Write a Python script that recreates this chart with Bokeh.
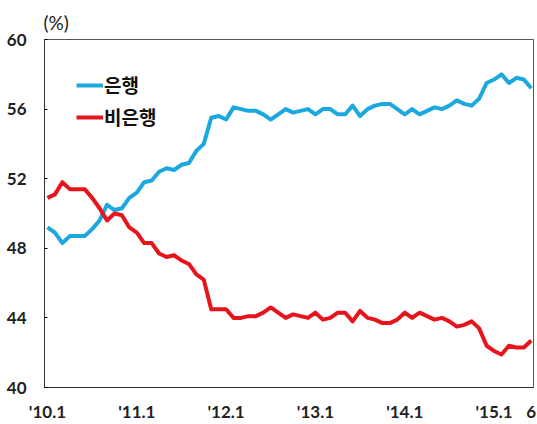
from bokeh.plotting import figure
from bokeh.models import Range1d, FixedTicker, Legend, LegendItem
from bokeh.embed import file_html
from bokeh.resources import INLINE

# Monthly shares (%), 2010.1 - 2015.6
months = list(range(66))
bank = [49.2, 48.9, 48.3, 48.7, 48.7, 48.7, 49.1, 49.6, 50.5, 50.2,
        50.3, 50.9, 51.2, 51.8, 51.9, 52.4, 52.6, 52.5, 52.8, 52.9,
        53.6, 54.0, 55.5, 55.6, 55.4, 56.1, 56.0, 55.9, 55.9, 55.7,
        55.4, 55.7, 56.0, 55.8, 55.9, 56.0, 55.7, 56.0, 56.0, 55.7,
        55.7, 56.2, 55.6, 56.0, 56.2, 56.3, 56.3, 56.0, 55.7, 56.0,
        55.7, 55.9, 56.1, 56.0, 56.2, 56.5, 56.3, 56.2, 56.6, 57.5,
        57.7, 58.0, 57.5, 57.8, 57.7, 57.2]
nonbank = [50.9, 51.1, 51.8, 51.4, 51.4, 51.4, 50.9, 50.3, 49.6, 50.0,
           49.9, 49.2, 48.9, 48.3, 48.3, 47.7, 47.5, 47.6, 47.3, 47.1,
           46.5, 46.2, 44.5, 44.5, 44.5, 44.0, 44.0, 44.1, 44.1, 44.3,
           44.6, 44.3, 44.0, 44.2, 44.1, 44.0, 44.3, 43.9, 44.0, 44.3,
           44.3, 43.8, 44.4, 44.0, 43.9, 43.7, 43.7, 43.9, 44.3, 44.0,
           44.3, 44.1, 43.9, 44.0, 43.8, 43.5, 43.6, 43.8, 43.4, 42.4,
           42.1, 41.9, 42.4, 42.3, 42.3, 42.7]
x_ticks = [0, 12, 24, 36, 48, 60, 65]
x_tick_labels = ["'10.1", "'11.1", "'12.1", "'13.1", "'14.1", "'15.1", "6"]
y_ticks = [40, 44, 48, 52, 56, 60]
series_names = ["은행", "비은행"]

BLUE = "#1AA8DE"
RED = "#E8141C"

p = figure(width=537, height=424, output_backend="svg", toolbar_location=None,
           x_range=Range1d(-0.4, 65.3), y_range=Range1d(40, 60),
           min_border_left=44, min_border_right=4, min_border_top=39,
           min_border_bottom=37, title="(%)")
p.title.text_font = "Lato"
p.title.text_font_size = "19px"
p.title.text_font_style = "normal"
p.title.text_color = "#222222"
p.title.offset = -1
p.title.standoff = 12

p.xgrid.visible = False
p.ygrid.visible = False
p.outline_line_color = "#555555"
p.outline_line_width = 1

r1 = p.line(months, bank, line_color=BLUE, line_width=4, line_join="round")
r2 = p.line(months, nonbank, line_color=RED, line_width=4, line_join="round")

p.xaxis.ticker = FixedTicker(ticks=x_ticks)
p.xaxis.major_label_overrides = {t: l for t, l in zip(x_ticks, x_tick_labels)}
p.xaxis.major_tick_line_color = None
p.xaxis.minor_tick_line_color = None
p.xaxis.major_label_standoff = 7
p.yaxis.ticker = FixedTicker(ticks=y_ticks)
p.yaxis.major_tick_in = 3
p.yaxis.major_tick_out = 0
p.yaxis.minor_tick_line_color = None
p.yaxis.major_label_standoff = 18
for ax in (p.xaxis, p.yaxis):
    ax.axis_line_color = "#333333"
    ax.major_label_text_font = "Lato"
    ax.major_label_text_font_size = "17px"
    ax.major_label_text_font_style = "bold"
    ax.major_label_text_color = "#222222"

legend = Legend(items=[LegendItem(label=series_names[0], renderers=[r1]),
                       LegendItem(label=series_names[1], renderers=[r2])],
                location="top_left", margin=24, padding=8,
                glyph_width=27, glyph_height=20, label_height=20,
                label_standoff=1, spacing=5,
                label_text_font="Noto Sans CJK KR", label_text_font_size="19px",
                label_text_font_style="bold", label_text_color="#111111",
                background_fill_alpha=0, border_line_alpha=0)
p.add_layout(legend)

open("out.html", "w").write(file_html(p, INLINE))
